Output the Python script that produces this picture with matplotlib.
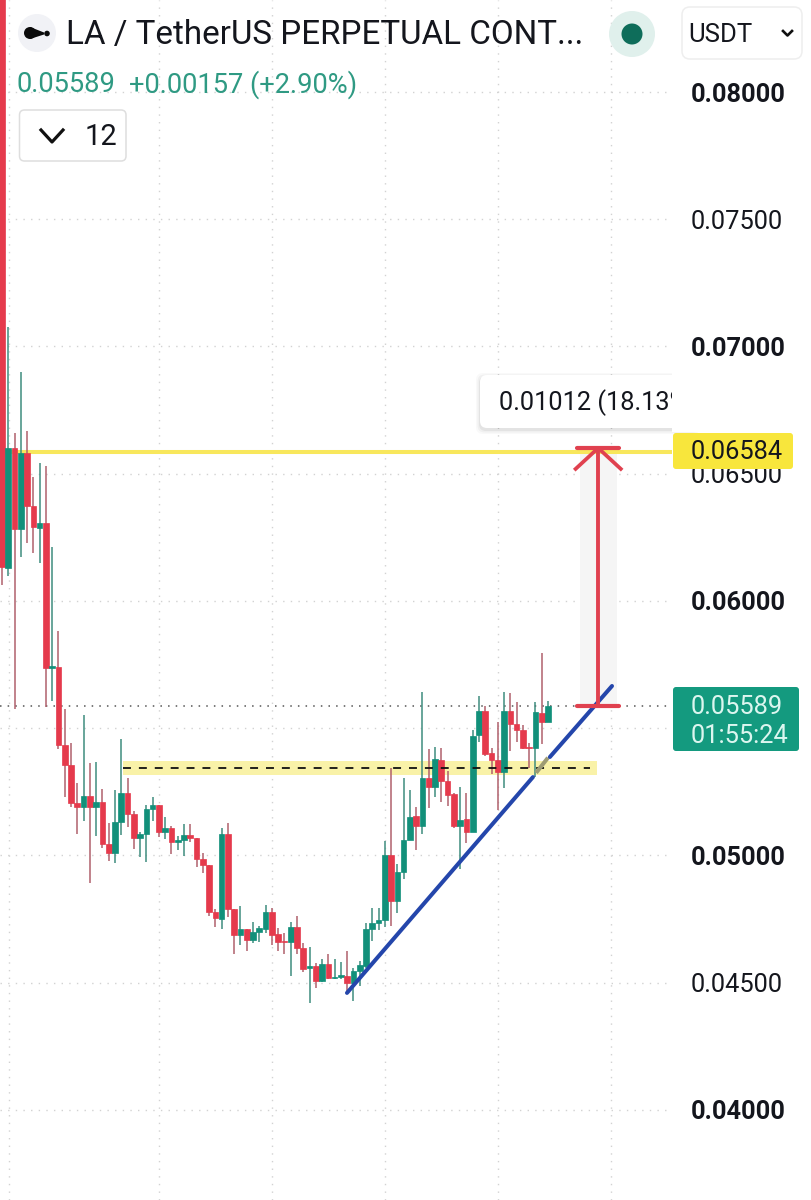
import matplotlib
matplotlib.use("Agg")
import matplotlib.pyplot as plt
from matplotlib.patches import FancyBboxPatch, Circle, Polygon, Rectangle

plt.rcParams['font.family'] = ['Roboto', 'DejaVu Sans']

opens = [.08700,.06130,.06601,.06283,.06582,.06373,.06287,.06306,.05737,.05741,
         .05434,.05356,.05206,.05191,.05234,.05191,.05210,.05045,.05010,.05132,
         .05246,.05163,.05069,.05084,.05183,.05198,.05092,.05108,.05053,.05061,
         .05081,.05069,.04986,.04963,.04778,.04751,.05084,.04790,.04688,.04711,
         .04668,.04699,.04711,.04778,.04692,.04664,.04660,.04719,.04637,.04558,
         .04566,.04507,.04574,.04519,.04523,.04526,.04499,.04546,.04566,.04711,
         .04735,.04747,.05002,.04821,.04935,.05061,.05155,.05116,.05304,.05269,
         .05375,.05293,.05242,.05116,.05143,.05092,.05473,.05568,.05403,.05375,
         .05328,.05568,.05517,.05493,.05426,.05422,.05560,.05525]
highs = [.08700,.07077,.06660,.06900,.06668,.06487,.06542,.06530,.06212,.05882,
         .05576,.05442,.05285,.05552,.05364,.05367,.05261,.05128,.05257,.05458,
         .05304,.05175,.05092,.05198,.05230,.05198,.05151,.05116,.05077,.05124,
         .05124,.05069,.05010,.04963,.04790,.05108,.05128,.04790,.04802,.04711,
         .04739,.04723,.04805,.04794,.04715,.04696,.04739,.04762,.04656,.04640,
         .04578,.04593,.04613,.04593,.04582,.04625,.04558,.04585,.04735,.04794,
         .04794,.05057,.05344,.04967,.05304,.05257,.05191,.05642,.05419,.05426,
         .05422,.05332,.05246,.05269,.05246,.05493,.05627,.05587,.05422,.05525,
         .05642,.05638,.05603,.05513,.05442,.05603,.05796,.05607]
lows = [.06063,.06098,.05576,.06173,.06228,.06189,.06149,.05584,.05607,.05419,
        .05230,.05191,.05084,.05136,.04892,.05077,.05029,.04978,.04971,.05081,
        .05112,.05026,.04994,.04974,.05136,.05073,.05065,.05006,.05022,.04998,
        .05053,.04955,.04931,.04762,.04719,.04711,.04758,.04613,.04648,.04625,
        .04656,.04660,.04696,.04648,.04625,.04613,.04526,.04613,.04542,.04420,
        .04479,.04503,.04515,.04515,.04515,.04460,.04428,.04487,.04558,.04664,
        .04707,.04719,.04723,.04774,.04908,.05061,.05022,.05084,.05187,.05230,
        .05210,.05194,.05108,.04947,.05049,.05092,.05446,.05391,.05320,.05179,
        .05265,.05411,.05446,.05419,.05344,.05308,.05438,.05525]
closes = [.06134,.06601,.06283,.06582,.06373,.06291,.06306,.05737,.05745,.05434,
          .05356,.05206,.05191,.05234,.05191,.05210,.05045,.05010,.05132,.05246,
          .05163,.05069,.05084,.05183,.05198,.05092,.05108,.05053,.05061,.05081,
          .05069,.04986,.04963,.04778,.04754,.05084,.04790,.04688,.04711,.04668,
          .04699,.04715,.04778,.04688,.04660,.04662,.04719,.04637,.04554,.04566,
          .04507,.04574,.04519,.04523,.04530,.04499,.04546,.04570,.04711,.04735,
          .04747,.05002,.04821,.04935,.05061,.05151,.05116,.05304,.05269,.05379,
          .05293,.05238,.05116,.05140,.05092,.05470,.05568,.05399,.05375,.05328,
          .05568,.05517,.05493,.05422,.05422,.05564,.05525,.05589]

price_ticks = [.080,.075,.070,.065,.060,.055,.050,.045,.040]
price_labels = ['0.08000','0.07500','0.07000','0.06500','0.06000','','0.05000','0.04500','0.04000']
bold_ticks = ['0.08000','0.07000','0.06000','0.05000','0.04000']
time_ticks = [1.1, 25, 43, 61, 79, 97]

resistance = .06584
last_price = .05589
target_price = .06601
zone_low, zone_mid, zone_high = .05317, .05344, .05371
zone_x = (19.3, 94.8)
dash_x = (19.3, 93.7)
trend_x = [54.97, 84.6, 85.3, 86.8, 87.3, 97.2]
trend_y = [.04460, .05308, .05331, .05378, .05387, .05666]
arrow_x = 95.0
arrow_half = 3.3

RED, GREEN = '#e53a4c', '#12907a'
RED_W, GREEN_W = '#b0606c', '#3f8d7f'
TEXT = '#14161d'

W, H = 811, 1200
fig = plt.figure(figsize=(W / 100, H / 100), dpi=100, facecolor='white')
ax = fig.add_axes([0, 0, 672 / W, 1])
ax.set_xlim(-0.319, 106.76)
ax.set_ylim(.036463, .083615)
for s in ax.spines.values():
    s.set_visible(False)

ax.set_yticks(price_ticks)
ax.set_yticklabels(price_labels)
ax.yaxis.tick_right()
ax.set_xticks(time_ticks)
ax.set_xticklabels([])
ax.tick_params(axis='both', length=0)
ax.tick_params(axis='y', pad=13.5, labelsize=18.3, labelcolor=TEXT)
for lab in ax.get_yticklabels():
    if lab.get_text() in bold_ticks:
        lab.set_fontweight('bold')
ax.grid(True, color='#d2d2d2', lw=1.0, linestyle=(0, (1, 4.5)), zorder=0)
ax.set_axisbelow(True)

# annotation layers underneath the candles
ax.axhline(resistance, color='#f8e75c', lw=2.9, zorder=1.5)
ax.fill_between(zone_x, zone_low, zone_high, color='#f9f2a8', lw=0, zorder=1.4)
ax.fill_between([arrow_x - 2.9, arrow_x + 3.0], last_price, target_price,
                color='#f5f5f5', lw=0, zorder=1.3)
ax.axhline(last_price, color='#555555', lw=1.1, linestyle=(0, (1, 4)), zorder=1.6)

# candles
xs = list(range(len(opens)))
cols = [GREEN if c >= o else RED for o, c in zip(opens, closes)]
wcols = [GREEN_W if c >= o else RED_W for o, c in zip(opens, closes)]
ax.vlines(xs, lows, highs, colors=wcols, lw=1.1, zorder=2)
ax.bar(xs, [abs(c - o) for o, c in zip(opens, closes)],
       bottom=[min(o, c) for o, c in zip(opens, closes)],
       width=0.9, color=cols, edgecolor=cols, lw=0.5, zorder=3)

# dashed level, trend line, measure arrow
ax.plot(dash_x, [zone_mid, zone_mid], color='#111111', lw=1.3, linestyle=(0, (4.4, 4.4)), zorder=4)
ax.plot(trend_x[:2], trend_y[:2], color='#2446ab', lw=2.9, zorder=5, solid_capstyle='round')
ax.plot(trend_x[2:4], trend_y[2:4], color='#9d9b74', lw=2.9, zorder=5)
ax.plot(trend_x[4:], trend_y[4:], color='#2446ab', lw=2.9, zorder=5, solid_capstyle='round')
ARW = '#e0414f'
ax.plot([arrow_x, arrow_x], [last_price, target_price], color=ARW, lw=2.8, zorder=6)
ax.plot([arrow_x - arrow_half, arrow_x + arrow_half], [target_price] * 2, color=ARW, lw=3.0, zorder=6, solid_capstyle='round')
ax.plot([arrow_x - arrow_half, arrow_x + arrow_half], [last_price] * 2, color=ARW, lw=3.0, zorder=6, solid_capstyle='round')
ax.plot([arrow_x - 3.6, arrow_x, arrow_x + 3.6], [target_price - .00082, target_price, target_price - .00082],
        color=ARW, lw=2.7, zorder=6)

# interface overlay in pixel coordinates
ui = fig.add_axes([0, 0, 1, 1], facecolor='none')
ui.set_xlim(0, W)
ui.set_ylim(H, 0)
ui.axis('off')

def box(x0, y0, x1, y1, r, **kw):
    p = FancyBboxPatch((x0 + r, y0 + r), x1 - x0 - 2 * r, y1 - y0 - 2 * r,
                       boxstyle=f'round,pad={r},rounding_size={r}', **kw)
    ui.add_patch(p)
    return p

# header
ui.add_patch(Circle((37, 33), 19, color='#f1f2f6', lw=0))
ui.add_patch(Circle((30, 33), 6, color='#0b0b0b', lw=0))
ui.add_patch(Polygon([(30, 27), (44, 32.5), (44, 34.5), (30, 39)], color='#0b0b0b', lw=0))
ui.add_patch(Circle((47, 33.5), 2.8, color='#0b0b0b', lw=0))
ui.text(66, 35.5, 'LA / TetherUS PERPETUAL CONT...', fontsize=23.9, color=TEXT, va='center', ha='left')
ui.text(17, 85, '0.05589', fontsize=19.6, color='#2f9a83', va='center', ha='left')
ui.text(129, 85, '+0.00157 (+2.90%)', fontsize=19.6, color='#2f9a83', va='center', ha='left')

box(19.5, 110, 126, 161, 5, fc='white', ec='#dedede', lw=1.1)
ui.plot([41, 52, 63], [130, 142, 130], color='#111111', lw=2.3)
ui.text(85, 137, '12', fontsize=21, color=TEXT, va='center', ha='left')

ui.add_patch(Circle((632, 34), 23, color='#e0f0ec', lw=0))
ui.add_patch(Circle((632, 34), 10.5, color='#0e6d5a', lw=0))
box(682, 7, 802, 59, 8, fc='white', ec='#eeeeee', lw=1.1)
ui.text(688, 35, 'USDT', fontsize=18.5, color=TEXT, va='center', ha='left')
ui.plot([783, 787.5, 792], [31, 35.5, 31], color='#111111', lw=1.9)

# tooltip of the measure tool, cut off by the scale
for grow, alpha in ((4, 0.025), (2.5, 0.035), (1, 0.05)):
    box(480 - grow, 375 - grow + 2, 700, 428 + grow + 2, 7, fc='#000000', ec='none', alpha=alpha)
box(480, 375, 700, 428, 7, fc='white', ec='none')
ui.text(499, 403, '0.01012 (18.13%)', fontsize=18.3, color=TEXT, va='center', ha='left')
ui.add_patch(Rectangle((672, 368), 139, 64, fc='white', ec='none', zorder=3))

# scale tags
box(673, 433, 793, 469, 3, fc='#f8e63c', ec='none', zorder=4)
ui.text(691, 452, '0.06584', fontsize=18.3, color=TEXT, va='center', ha='left', zorder=5)
box(673, 687, 799, 751, 3, fc='#149a7f', ec='none', zorder=4)
ui.text(691, 706.5, '0.05589', fontsize=18.3, color='#dcf6ef', va='center', ha='left', zorder=5)
ui.text(691, 736, '01:55:24', fontsize=18.3, color='#dcf6ef', va='center', ha='left', zorder=5)

fig.savefig('out.png', dpi=100, facecolor='white')
